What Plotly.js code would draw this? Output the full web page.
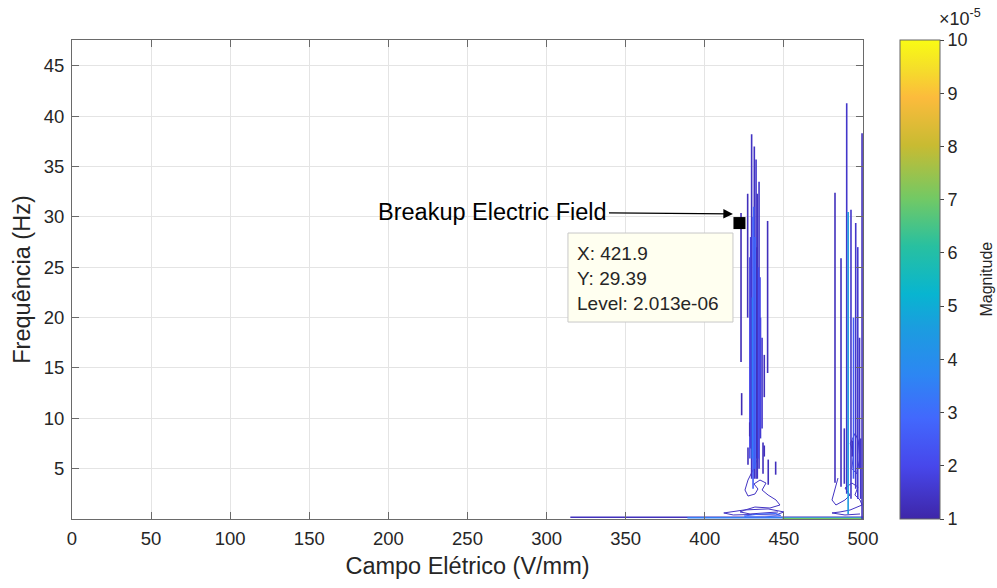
<!DOCTYPE html>
<html>
<head>
<meta charset="utf-8">
<script src="https://cdn.plot.ly/plotly-3.0.1.min.js"></script>
<style>html,body{margin:0;padding:0;background:#fff;}#chart{width:997px;height:588px;}</style>
</head>
<body>
<div id="chart"></div>
<script>
// ---- data (levels in units of 1e-5) ----
const xTicks = [0, 50, 100, 150, 200, 250, 300, 350, 400, 450, 500];
const yTicks = [5, 10, 15, 20, 25, 30, 35, 40, 45];
const cbTicks = [1, 2, 3, 4, 5, 6, 7, 8, 9, 10];

// vertical contour strands: x position, bottom y, top y, level
const strandX   = [422.9, 423.3, 427.1, 429.6, 431.3, 432.4, 433.2, 434.3, 439.7, 437.6,
                   430.5, 431.8, 430.0, 433.8, 435.2, 428.5, 436.2,
                   427.3, 437.6, 440.1, 444.8, 428.4, 436.8,
                   429.0, 430.9, 432.9, 434.9,
                   482.3, 486.1, 489.7, 490.6, 492.4, 495.4, 496.7, 499.4,
                   494.0, 497.8, 488.2, 498.5, 493.2];
const strandY0  = [15.6, 10.3, 20.0, 4.0, 4.0, 4.0, 4.0, 5.0, 14.5, 12.1,
                   3.0, 5.0, 6.0, 6.0, 8.0, 6.0, 9.0,
                   5.4, 6.2, 3.4, 4.4, 8.2, 4.5,
                   7.0, 5.0, 6.0, 9.0,
                   3.6, 3.2, 2.5, 0.5, 2.0, 3.0, 2.0, 0.0,
                   4.0, 5.0, 3.5, 2.0, 6.2];
const strandY1  = [30.4, 12.5, 32.3, 38.2, 37.0, 35.7, 32.3, 33.5, 29.6, 16.3,
                   30.0, 28.0, 22.0, 25.0, 20.0, 26.0, 18.0,
                   7.1, 7.3, 5.9, 5.7, 9.6, 7.6,
                   28.0, 31.0, 27.0, 24.0,
                   32.4, 25.9, 41.3, 30.5, 30.7, 29.4, 27.0, 38.3,
                   20.0, 18.0, 9.0, 8.0, 7.8];
const strandLev = [1.2, 1.2, 1.3, 1.4, 1.4, 1.5, 1.4, 1.5, 1.3, 1.3,
                   2.5, 3.0, 3.5, 2.2, 1.6, 2.0, 1.5,
                   1.3, 1.3, 1.3, 1.3, 1.3, 1.3,
                   1.8, 2.8, 1.3, 2.0,
                   1.3, 1.3, 1.5, 4.6, 1.5, 1.5, 1.6, 1.3,
                   2.5, 1.5, 1.4, 1.5, 1.4];

// wiggly closed contours near the base
const loopAx = [433.0, 430.5, 427.3, 425.4, 427.3, 431.7, 433.6, 431.1, 434.9, 438.7, 436.2, 440.0, 445.0, 447.5, 441.2, 431.7, 425.4, 422.3, 428.6, 438.1, 446.3];
const loopAy = [5.86, 4.87, 3.87, 2.88, 2.28, 2.48, 2.98, 3.48, 3.87, 3.57, 2.88, 2.38, 1.89, 1.39, 1.09, 1.19, 0.89, 0.70, 0.50, 0.60, 0.70];
const loopBx = [412, 425, 440, 450, 445, 430, 418, 412];
const loopBy = [0.6, 0.9, 1.0, 0.7, 0.4, 0.45, 0.4, 0.6];
const loopCx = [425, 435, 445, 448, 438, 426, 425];
const loopCy = [0.3, 0.5, 0.55, 0.35, 0.2, 0.2, 0.3];
const loopDx = [484.2, 482.3, 480.4, 482.9, 488.6, 491.8, 488.6, 493.0, 496.8, 494.9, 498.1, 499.4, 491.8, 485.5, 480.4, 488.6, 498.1];
const loopDy = [4.07, 2.88, 1.89, 1.39, 1.89, 2.38, 3.08, 3.57, 3.18, 2.38, 1.89, 1.39, 0.89, 0.70, 0.60, 0.40, 0.50];
const loopEx = [492, 494, 493, 496, 498, 497, 495, 492];
const loopEy = [7.5, 6.5, 5.0, 4.5, 6.0, 7.8, 8.5, 7.5];
const loopLev = [1.4, 1.4, 3.0, 1.4, 1.6];

// long low contours along the bottom
const baseX0  = [315, 389, 449];
const baseX1  = [500, 500, 500];
const baseY   = [0.18, 0.12, 0.05];
const baseLev = [1.3, 3.5, 7.0];

// data tip
const tipX = 421.9, tipY = 29.39, tipLevel = '2.013e-06';

// ---- colours ----
const parula = [
  [0.00, [62, 38, 168]], [0.11, [71, 71, 235]], [0.21, [66, 104, 253]],
  [0.30, [45, 134, 243]], [0.40, [27, 157, 223]], [0.47, [8, 181, 208]],
  [0.57, [40, 192, 160]], [0.67, [115, 201, 100]], [0.78, [200, 187, 50]],
  [0.88, [252, 187, 60]], [0.94, [245, 222, 42]], [1.00, [249, 251, 20]]
];
const cmin = 1, cmax = 10;
function colorOf(lev) {
  let t = Math.max(0, Math.min(1, (lev - cmin) / (cmax - cmin)));
  for (let i = 1; i < parula.length; i++) {
    if (t <= parula[i][0]) {
      const a = parula[i - 1], b = parula[i];
      const f = (t - a[0]) / (b[0] - a[0]);
      const c = a[1].map((v, k) => Math.round(v + (b[1][k] - v) * f));
      return 'rgb(' + c.join(',') + ')';
    }
  }
  return 'rgb(249,251,20)';
}
const colorscale = parula.map(p => [p[0], 'rgb(' + p[1].join(',') + ')']);

// ---- traces ----
const traces = [];
function addLine(xs, ys, lev, w) {
  traces.push({type: 'scatter', mode: 'lines', x: xs, y: ys, showlegend: false,
    hoverinfo: 'skip', line: {color: colorOf(lev), width: w || 1.4}});
}
for (let i = 0; i < baseX0.length; i++) addLine([baseX0[i], baseX1[i]], [baseY[i], baseY[i]], baseLev[i], 1.6);
const loops = [[loopAx, loopAy], [loopBx, loopBy], [loopCx, loopCy], [loopDx, loopDy], [loopEx, loopEy]];
loops.forEach((l, i) => addLine(l[0], l[1], loopLev[i], 1));
for (let i = 0; i < strandX.length; i++) addLine([strandX[i], strandX[i]], [strandY0[i], strandY1[i]], strandLev[i], 1.6);

// data-tip marker
traces.push({type: 'scatter', mode: 'markers', x: [tipX], y: [tipY], showlegend: false, hoverinfo: 'skip',
  marker: {symbol: 'square', size: 12, color: '#000'}});

const font = 'Liberation Sans, Arial, sans-serif';
// colour bar carrier
traces.push({type: 'scatter', mode: 'markers', x: [250], y: [-100], showlegend: false, hoverinfo: 'skip',
  marker: {color: [cmin], cmin: cmin, cmax: cmax, colorscale: colorscale, size: 1, showscale: true,
    colorbar: {x: 1.0468, xanchor: 'left', xref: 'paper', y: 0.5, yanchor: 'middle', len: 1, lenmode: 'fraction',
      thickness: 40, thicknessmode: 'pixels', xpad: 0, ypad: 0, outlinecolor: '#666', outlinewidth: 1,
      tickmode: 'array', tickvals: cbTicks, ticktext: cbTicks.map(String), ticks: 'outside', ticklen: 4,
      tickcolor: '#444', tickfont: {family: font, size: 18, color: '#262626'}}}});

const layout = {
  width: 997, height: 588,
  margin: {l: 72, r: 134, t: 40, b: 69},
  paper_bgcolor: '#fff', plot_bgcolor: '#fff',
  font: {family: font, color: '#262626'},
  xaxis: {range: [0, 500], tickmode: 'array', tickvals: xTicks, ticks: 'inside', ticklen: 7,
    tickcolor: '#6a6a6a', showline: true, linecolor: '#6a6a6a', linewidth: 1, mirror: 'ticks',
    showgrid: true, gridcolor: '#e4e4e4', zeroline: false, tickfont: {size: 18.5},
    ticklabelstandoff: 3,
    title: {text: 'Campo Elétrico (V/mm)', font: {size: 23.5}, standoff: 9}},
  yaxis: {range: [0, 47.57], tickmode: 'array', tickvals: yTicks, ticks: 'inside', ticklen: 7,
    tickcolor: '#6a6a6a', showline: true, linecolor: '#6a6a6a', linewidth: 1, mirror: 'ticks',
    showgrid: true, gridcolor: '#e4e4e4', zeroline: false, tickfont: {size: 18.5},
    ticklabelstandoff: 3,
    title: {text: 'Frequência (Hz)', font: {size: 23.5}, standoff: 6}},
  shapes: [{type: 'rect', xref: 'x', yref: 'y', x0: 313.5, x1: 417.8, y0: 19.56, y1: 28.4,
    fillcolor: '#fffff0', line: {color: '#c8c8c8', width: 1}, layer: 'above'}],
  annotations: [
    {x: 417.8, y: 30.3, xref: 'x', yref: 'y', text: 'Breakup Electric Field', showarrow: true,
      ax: -240, ay: -2, arrowhead: 2, arrowsize: 1.6, arrowwidth: 1.2, arrowcolor: '#000',
      font: {size: 23.5, color: '#000'}},
    {x: 318, y: 26.4, xref: 'x', yref: 'y', xanchor: 'left', yanchor: 'middle', showarrow: false,
      text: 'X: ' + tipX, font: {size: 19, color: '#262626'}},
    {x: 318, y: 23.9, xref: 'x', yref: 'y', xanchor: 'left', yanchor: 'middle', showarrow: false,
      text: 'Y: ' + tipY, font: {size: 19, color: '#262626'}},
    {x: 318, y: 21.4, xref: 'x', yref: 'y', xanchor: 'left', yanchor: 'middle', showarrow: false,
      text: 'Level: ' + tipLevel, font: {size: 19, color: '#262626'}},
    {x: 1.1555, y: 0.5, xref: 'paper', yref: 'paper', xanchor: 'center', yanchor: 'middle', showarrow: false,
      textangle: -90, text: 'Magnitude', font: {size: 16, color: '#262626'}},
    {x: 1.094, y: 1.018, xref: 'paper', yref: 'paper', xanchor: 'left', yanchor: 'bottom', showarrow: false,
      text: '×10<sup>-5</sup>', font: {size: 18, color: '#262626'}}
  ]
};
Plotly.newPlot('chart', traces, layout, {staticPlot: true, displayModeBar: false});
</script>
</body>
</html>
